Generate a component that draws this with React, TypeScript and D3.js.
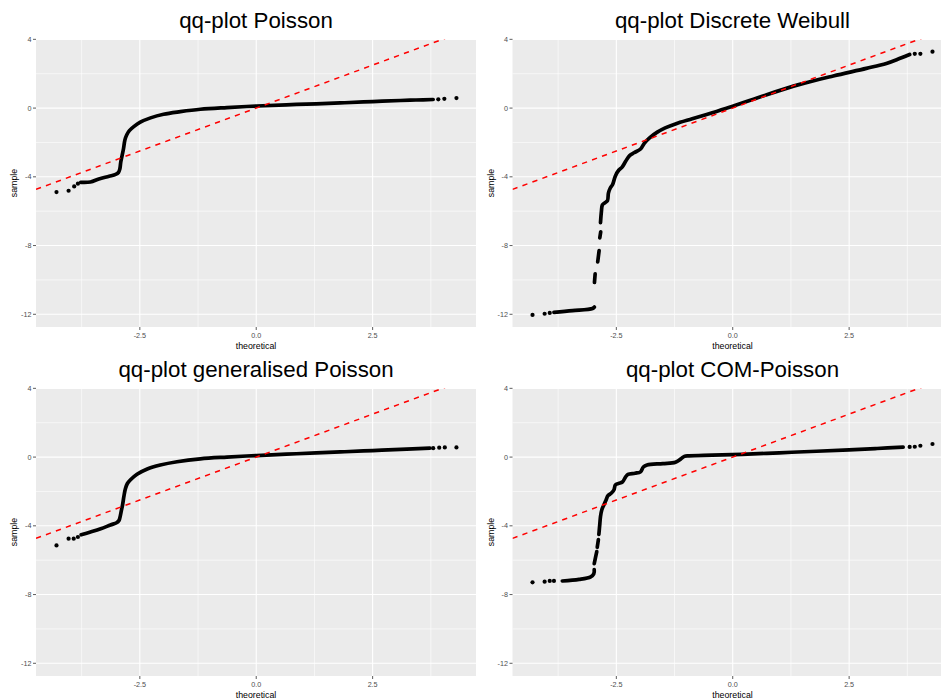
import React from "react";
import * as d3 from "d3";

type Pt = [number, number];

// ---- axis ticks ----
const xMajorTicks = [-2.5, 0, 2.5];
const xMajorLabels = ["-2.5", "0.0", "2.5"];
const xMinorTicks = [-3.75, -1.25, 1.25, 3.75];
const yMajorTicks = [-12, -8, -4, 0, 4];
const yMajorLabels = ["-12", "-8", "-4", "0", "4"];
const yMinorTicks = [-10, -6, -2, 2];

// ---- reference line (geom_abline) ----
const refIntercept = 0;
const refSlope = 1;

// ---- Poisson ----
const poissonBands: Pt[][] = [
  [
    [-3.77, -4.32], [-3.56, -4.3], [-3.38, -4.13], [-3.16, -3.97], [-3.02, -3.86],
    [-2.96, -3.75], [-2.93, -3.55], [-2.91, -3.15], [-2.88, -2.75], [-2.85, -2.35],
    [-2.82, -1.85], [-2.78, -1.55], [-2.72, -1.3], [-2.63, -1.08], [-2.49, -0.82],
    [-2.27, -0.57], [-1.99, -0.36], [-1.63, -0.21], [-1.2, -0.07], [-0.63, 0.03],
    [0.01, 0.12], [0.65, 0.19], [1.29, 0.25], [1.9, 0.31], [2.5, 0.38],
    [3.1, 0.44], [3.43, 0.47], [3.8, 0.5],
  ],
];
const poissonTails: Pt[] = [
  [-4.29, -4.89], [-4.03, -4.81], [-3.91, -4.56], [-3.83, -4.4],
  [3.91, 0.51], [4.04, 0.54], [4.3, 0.58],
];

// ---- Discrete Weibull ----
const weibullBands: Pt[][] = [
  [[-3.84, -11.89], [-3.44, -11.79], [-3.01, -11.66], [-2.97, -11.58]],
  [[-2.97, -10.15], [-2.955, -9.65]],
  [[-2.9, -8.95], [-2.87, -8.3]],
  [[-2.855, -7.55], [-2.835, -7.2]],
  [
    [-2.84, -6.67], [-2.82, -6.0], [-2.8, -5.64], [-2.74, -5.5], [-2.69, -5.38],
    [-2.67, -4.95], [-2.63, -4.65], [-2.58, -4.45], [-2.52, -3.95], [-2.45, -3.62],
    [-2.38, -3.45], [-2.3, -3.1], [-2.22, -2.78], [-2.12, -2.6], [-1.98, -2.38],
    [-1.9, -2.05], [-1.78, -1.72], [-1.62, -1.4], [-1.45, -1.15], [-1.23, -0.92],
    [-0.87, -0.62], [-0.44, -0.27], [0.0, 0.1], [0.73, 0.78], [1.44, 1.38],
    [2.16, 1.87], [2.87, 2.31], [3.3, 2.6], [3.58, 2.88], [3.8, 3.12],
  ],
];
const weibullTails: Pt[] = [
  [-4.3, -12.04], [-4.04, -11.97], [-3.93, -11.92],
  [3.91, 3.16], [4.03, 3.16], [4.29, 3.28],
];

// ---- generalised Poisson ----
const genPoissonBands: Pt[][] = [
  [
    [-3.76, -4.52], [-3.56, -4.36], [-3.34, -4.17], [-3.13, -3.95], [-3.0, -3.82],
    [-2.95, -3.7], [-2.93, -3.55], [-2.9, -3.16], [-2.87, -2.77], [-2.84, -2.25],
    [-2.81, -1.85], [-2.77, -1.55], [-2.7, -1.32], [-2.56, -1.0], [-2.34, -0.69],
    [-2.06, -0.46], [-1.7, -0.27], [-1.2, -0.1], [-0.63, 0.0], [0.01, 0.09],
    [0.65, 0.17], [1.29, 0.24], [1.9, 0.31], [2.5, 0.38], [3.1, 0.45], [3.73, 0.52],
  ],
];
const genPoissonTails: Pt[] = [
  [-4.29, -5.14], [-4.03, -4.75], [-3.92, -4.75], [-3.83, -4.65],
  [3.8, 0.52], [3.93, 0.55], [4.05, 0.56], [4.3, 0.56],
];

// ---- COM-Poisson ----
const comPoissonBands: Pt[][] = [
  [[-3.66, -7.21], [-3.3, -7.12], [-3.05, -6.97], [-2.985, -6.8], [-2.975, -6.55]],
  [[-2.975, -6.2], [-2.94, -5.75], [-2.92, -5.5]],
  [[-2.91, -5.25], [-2.885, -4.8]],
  [
    [-2.875, -4.5], [-2.855, -3.9], [-2.84, -3.46], [-2.81, -3.05], [-2.77, -2.8],
    [-2.72, -2.5], [-2.68, -2.25], [-2.6, -2.08], [-2.55, -1.9], [-2.52, -1.62],
    [-2.45, -1.53], [-2.37, -1.45], [-2.3, -1.15], [-2.25, -1.01], [-2.1, -0.94],
    [-1.98, -0.86], [-1.92, -0.58], [-1.84, -0.46], [-1.5, -0.38], [-1.23, -0.3],
    [-1.12, -0.12], [-1.04, 0.04], [-0.94, 0.07], [-0.44, 0.11], [0.2, 0.16],
    [1.0, 0.25], [1.8, 0.34], [2.5, 0.42], [3.1, 0.5], [3.66, 0.58],
  ],
];
const comPoissonTails: Pt[] = [
  [-4.3, -7.29], [-4.04, -7.25], [-3.93, -7.21], [-3.84, -7.21],
  [3.8, 0.59], [3.91, 0.6], [4.03, 0.66], [4.29, 0.76],
];

const panelTitles = [
  "qq-plot Poisson",
  "qq-plot Discrete Weibull",
  "qq-plot generalised Poisson",
  "qq-plot COM-Poisson",
];

const FONT = "'Liberation Sans', Arial, Helvetica, sans-serif";
const CELL_W = 476.5;
const CELL_H = 349;
const P_LEFT = 36;
const P_RIGHT = 476;
const P_TOP = 39;
const P_BOTTOM = 327;

const xScale = d3.scaleLinear().domain([-4.73, 4.72]).range([P_LEFT, P_RIGHT]);
const yScale = d3.scaleLinear().domain([-12.74, 4.02]).range([P_BOTTOM, P_TOP]);

const lineGen = d3
  .line<Pt>()
  .x((d) => xScale(d[0]))
  .y((d) => yScale(d[1]))
  .curve(d3.curveCatmullRom.alpha(0.5));

function Panel({
  id,
  title,
  bands,
  tails,
  ox,
  oy,
}: {
  id: string;
  title: string;
  bands: Pt[][];
  tails: Pt[];
  ox: number;
  oy: number;
}) {
  const [x0, x1] = xScale.domain();
  const refPath = d3.line<number>()
    .x((v) => xScale(v))
    .y((v) => yScale(refIntercept + refSlope * v))([x0, x1]) as string;
  const midX = (P_LEFT + P_RIGHT) / 2;
  const midY = (P_TOP + P_BOTTOM) / 2;
  return (
    <g transform={`translate(${ox},${oy})`}>
      <defs>
        <clipPath id={`clip-${id}`}>
          <rect x={P_LEFT} y={P_TOP} width={P_RIGHT - P_LEFT} height={P_BOTTOM - P_TOP} />
        </clipPath>
      </defs>
      <text x={midX} y={28.3} textAnchor="middle" fontFamily={FONT} fontSize={22.3} fill="#000">
        {title}
      </text>
      <rect x={P_LEFT} y={P_TOP} width={P_RIGHT - P_LEFT} height={P_BOTTOM - P_TOP} fill="#EBEBEB" />
      {xMinorTicks.map((t) => (
        <line key={`xm${t}`} x1={xScale(t)} x2={xScale(t)} y1={P_TOP} y2={P_BOTTOM} stroke="#fff" strokeWidth={0.6} />
      ))}
      {yMinorTicks.map((t) => (
        <line key={`ym${t}`} y1={yScale(t)} y2={yScale(t)} x1={P_LEFT} x2={P_RIGHT} stroke="#fff" strokeWidth={0.6} />
      ))}
      {xMajorTicks.map((t) => (
        <line key={`xg${t}`} x1={xScale(t)} x2={xScale(t)} y1={P_TOP} y2={P_BOTTOM} stroke="#fff" strokeWidth={1.1} />
      ))}
      {yMajorTicks.map((t) => (
        <line key={`yg${t}`} y1={yScale(t)} y2={yScale(t)} x1={P_LEFT} x2={P_RIGHT} stroke="#fff" strokeWidth={1.1} />
      ))}
      <g clipPath={`url(#clip-${id})`}>
        {bands.map((b, i) => (
          <path
            key={`b${i}`}
            d={lineGen(b) as string}
            fill="none"
            stroke="#000"
            strokeWidth={3.7}
            strokeLinecap="round"
            strokeLinejoin="round"
          />
        ))}
        {tails.map((p, i) => (
          <circle key={`t${i}`} cx={xScale(p[0])} cy={yScale(p[1])} r={2.1} fill="#000" />
        ))}
        <path d={refPath} fill="none" stroke="#FF0000" strokeWidth={1.5} strokeDasharray="5.3,5.3" />
      </g>
      {xMajorTicks.map((t, i) => (
        <g key={`xt${t}`}>
          <line x1={xScale(t)} x2={xScale(t)} y1={P_BOTTOM} y2={P_BOTTOM + 3} stroke="#333" strokeWidth={0.8} />
          <text x={xScale(t)} y={P_BOTTOM + 10.6} textAnchor="middle" fontFamily={FONT} fontSize={7.2} fill="#4D4D4D">
            {xMajorLabels[i]}
          </text>
        </g>
      ))}
      {yMajorTicks.map((t, i) => (
        <g key={`yt${t}`}>
          <line x1={P_LEFT - 3} x2={P_LEFT} y1={yScale(t)} y2={yScale(t)} stroke="#333" strokeWidth={0.8} />
          <text x={P_LEFT - 4.5} y={yScale(t) + 2.6} textAnchor="end" fontFamily={FONT} fontSize={7.2} fill="#4D4D4D">
            {yMajorLabels[i]}
          </text>
        </g>
      ))}
      <text x={midX} y={P_BOTTOM + 21.5} textAnchor="middle" fontFamily={FONT} fontSize={8.8} fill="#000">
        theoretical
      </text>
      <text
        transform={`translate(${17},${midY}) rotate(-90)`}
        textAnchor="middle"
        fontFamily={FONT}
        fontSize={8.8}
        fill="#000"
      >
        sample
      </text>
    </g>
  );
}

export default function App() {
  return (
    <>
      <style>{`body{margin:0;background:#fff}`}</style>
      <svg width={941} height={700} style={{ display: "block", background: "#fff" }}>
        <Panel id="p1" title={panelTitles[0]} bands={poissonBands} tails={poissonTails} ox={0} oy={0} />
        <Panel id="p2" title={panelTitles[1]} bands={weibullBands} tails={weibullTails} ox={CELL_W} oy={0} />
        <Panel id="p3" title={panelTitles[2]} bands={genPoissonBands} tails={genPoissonTails} ox={0} oy={CELL_H} />
        <Panel id="p4" title={panelTitles[3]} bands={comPoissonBands} tails={comPoissonTails} ox={CELL_W} oy={CELL_H} />
      </svg>
    </>
  );
}
